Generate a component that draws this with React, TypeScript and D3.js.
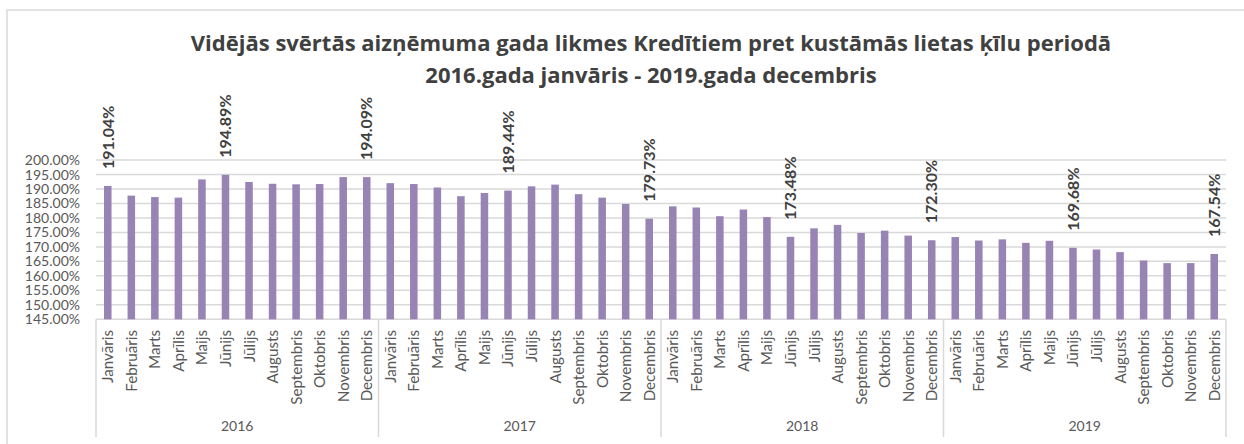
import React from "react";
import * as d3 from "d3";

const titleLines = [
  "Vidējās svērtās aizņēmuma gada likmes Kredītiem pret kustāmās lietas ķīlu periodā",
  "2016.gada janvāris - 2019.gada decembris",
];
const months = [
  "Janvāris", "Februāris", "Marts", "Aprīlis", "Maijs", "Jūnijs",
  "Jūlijs", "Augusts", "Septembris", "Oktobris", "Novembris", "Decembris",
];
const years = ["2016", "2017", "2018", "2019"];
const values2016 = [191.04, 187.7, 187.2, 187.0, 193.3, 194.89, 192.4, 191.8, 191.6, 191.7, 194.1, 194.09];
const values2017 = [192.0, 191.7, 190.5, 187.5, 188.6, 189.44, 190.9, 191.5, 188.2, 187.0, 184.8, 179.73];
const values2018 = [184.0, 183.6, 180.6, 182.9, 180.3, 173.48, 176.4, 177.6, 174.8, 175.6, 173.9, 172.30];
const values2019 = [173.4, 172.2, 172.6, 171.4, 172.1, 169.68, 169.1, 168.2, 165.3, 164.4, 164.4, 167.54];
const labelled = [
  [0, 5, 11],
  [5, 11],
  [5, 11],
  [5, 11],
];
const yTicks = [145, 150, 155, 160, 165, 170, 175, 180, 185, 190, 195, 200];

const W = 1244;
const H = 444;
const plot = { left: 96, right: 1226, top: 160, bottom: 319.3 };
const FONT = "Lato, 'Open Sans', sans-serif";
const TITLE_FONT = "'Open Sans', Lato, sans-serif";

export default function App() {
  const allValues = [values2016, values2017, values2018, values2019];
  const data = allValues.flatMap((vals, yi) =>
    vals.map((v, mi) => ({
      key: `${years[yi]}-${mi}`,
      year: years[yi],
      month: months[mi],
      value: v,
      label: labelled[yi].includes(mi),
    }))
  );
  const x = d3
    .scaleBand<string>()
    .domain(data.map((d) => d.key))
    .range([plot.left, plot.right])
    .paddingInner(0.68)
    .paddingOuter(0.34);
  const step = x.step();
  const y = d3.scaleLinear().domain([145, 200]).range([plot.bottom, plot.top]);
  const fmt = d3.format(".2f");
  const grid = "#d9d9d9";

  return (
    <svg
      width={W}
      height={H}
      style={{ position: "absolute", left: 0, top: 0, background: "#fff" }}
      fontFamily={FONT}
    >
      <rect x={7} y={10} width={W + 10} height={H + 10} fill="#fff" stroke={grid} strokeWidth={1.5} />
      {titleLines.map((t, i) => (
        <text
          key={i}
          x={651}
          y={51 + i * 32}
          textAnchor="middle"
          fontWeight="bold"
          fontSize={22}
          fontFamily={TITLE_FONT}
          fill="#404040"
        >
          {t}
        </text>
      ))}
      {yTicks.map((t) => (
        <g key={t}>
          <line x1={plot.left} x2={plot.right} y1={y(t)} y2={y(t)} stroke={grid} strokeWidth={1.5} />
          <text x={80} y={y(t)} dy="0.36em" textAnchor="end" fontSize={14} fill="#595959">
            {fmt(t)}%
          </text>
        </g>
      ))}
      {data.map((d) => (
        <rect
          key={d.key}
          x={x(d.key)}
          y={y(d.value)}
          width={x.bandwidth()}
          height={y(145) - y(d.value)}
          fill="#9883b5"
        />
      ))}
      {data
        .filter((d) => d.label)
        .map((d) => {
          const cx = (x(d.key) as number) + x.bandwidth() / 2;
          const ty = y(d.value) - 17;
          return (
            <text
              key={"l" + d.key}
              transform={`translate(${cx},${ty}) rotate(-90)`}
              dy="0.36em"
              textAnchor="start"
              fontWeight="bold"
              fontSize={16}
              fill="#404040"
            >
              {fmt(d.value)}%
            </text>
          );
        })}
      {data.map((d) => {
        const cx = (x(d.key) as number) + x.bandwidth() / 2;
        return (
          <text
            key={"m" + d.key}
            transform={`translate(${cx},330) rotate(-90)`}
            dy="0.36em"
            textAnchor="end"
            fontSize={15.2}
            fill="#595959"
          >
            {d.month}
          </text>
        );
      })}
      {[0, 12, 24, 36, 48].map((i) => {
        const xx = plot.left + i * step;
        return <line key={"s" + i} x1={xx} x2={xx} y1={plot.bottom} y2={437} stroke={grid} strokeWidth={1.5} />;
      })}
      {years.map((yr, i) => (
        <text
          key={yr}
          x={plot.left + (i * 12 + 6) * step}
          y={431}
          textAnchor="middle"
          fontSize={14}
          fill="#595959"
        >
          {yr}
        </text>
      ))}
    </svg>
  );
}
